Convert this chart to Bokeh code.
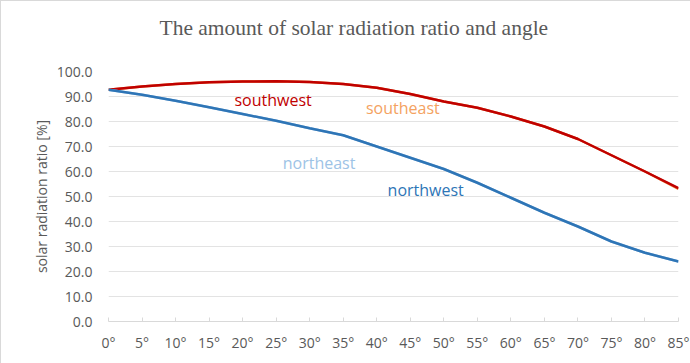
from bokeh.plotting import figure
from bokeh.models import Range1d, FixedTicker, PrintfTickFormatter, Label
from bokeh.embed import file_html
from bokeh.resources import INLINE

angles = ["0°", "5°", "10°", "15°", "20°", "25°", "30°", "35°", "40°", "45°",
          "50°", "55°", "60°", "65°", "70°", "75°", "80°", "85°"]
southwest = [92.7, 94.0, 95.0, 95.7, 96.0, 96.1, 95.8, 95.0, 93.5, 91.0,
             88.0, 85.5, 82.0, 78.0, 73.0, 66.5, 60.0, 53.3]
southeast = [92.7, 94.0, 95.0, 95.7, 96.0, 96.1, 95.8, 95.0, 93.5, 91.0,
             88.0, 85.5, 82.0, 78.0, 73.0, 66.5, 60.0, 53.0]
northeast = [92.7, 90.7, 88.3, 85.7, 83.0, 80.3, 77.3, 74.5, 70.0, 65.5,
             61.0, 55.5, 49.5, 43.5, 38.0, 32.0, 27.5, 24.0]
northwest = [92.7, 90.7, 88.3, 85.7, 83.0, 80.3, 77.3, 74.5, 70.0, 65.5,
             61.0, 55.5, 49.5, 43.5, 38.0, 32.0, 27.5, 24.0]
y_ticks = [0, 10, 20, 30, 40, 50, 60, 70, 80, 90, 100]

idx = list(range(len(angles)))

FONT = "Open Sans"
GRAY = "#595959"

p = figure(width=690, height=363, output_backend="svg", toolbar_location=None,
           x_range=Range1d(0, len(angles) - 1), y_range=Range1d(0, 100),
           min_border_left=107, min_border_right=13, min_border_top=70,
           min_border_bottom=43)
p.outline_line_color = None
p.styles = {"border-left": "1px solid #d9d9d9", "border-top": "1px solid #d9d9d9"}

p.title.text = "The amount of solar radiation ratio and angle\n "
p.title.align = "left"
p.title.offset = 51
p.title.text_font = "Liberation Serif"
p.title.text_font_style = "normal"
p.title.text_font_size = "21.5px"
p.title.text_color = GRAY
p.title.standoff = 16

# lines (hidden series first)
p.line(idx, southeast, line_color="#ED7D31", line_width=2.5)
p.line(idx, southwest, line_color="#C00000", line_width=2.5)
p.line(idx, northeast, line_color="#9DC3E6", line_width=2.5)
p.line(idx, northwest, line_color="#2E75B6", line_width=2.5)

# axes
p.xaxis.ticker = FixedTicker(ticks=idx)
p.xaxis.major_label_overrides = {i: a for i, a in zip(idx, angles)}
p.xaxis.major_tick_in = 4
p.xaxis.major_tick_out = 0
p.xaxis.minor_tick_line_color = None
p.xaxis.axis_line_color = "#d9d9d9"
p.xaxis.major_tick_line_color = "#d9d9d9"
p.xaxis.major_label_text_font = FONT
p.xaxis.major_label_text_font_size = "14px"
p.xaxis.major_label_text_color = GRAY
p.xaxis.major_label_standoff = 11

p.yaxis.ticker = FixedTicker(ticks=y_ticks)
p.yaxis.formatter = PrintfTickFormatter(format="%.1f")
p.yaxis.axis_line_color = None
p.yaxis.major_tick_line_color = None
p.yaxis.minor_tick_line_color = None
p.yaxis.major_label_text_font = FONT
p.yaxis.major_label_text_font_size = "14px"
p.yaxis.major_label_text_color = GRAY
p.yaxis.major_label_standoff = 10
p.yaxis.axis_label = "solar radiation ratio [%]"
p.yaxis.axis_label_text_font = FONT
p.yaxis.axis_label_text_font_style = "normal"
p.yaxis.axis_label_text_font_size = "14px"
p.yaxis.axis_label_text_color = GRAY
p.yaxis.axis_label_standoff = 3

p.xgrid.grid_line_color = None
p.ygrid.grid_line_color = "#e3e3e3"
p.ygrid.grid_line_width = 1

# series labels
labels = [("southwest", 4.91, 88.5, "#C00000"),
          ("southeast", 8.78, 85.5, "#F4A261"),
          ("northeast", 6.28, 63.6, "#9DC3E6"),
          ("northwest", 9.46, 52.8, "#2E75B6")]
for t, x, y, c in labels:
    p.add_layout(Label(x=x, y=y, text=t, text_align="center", text_baseline="middle",
                       text_font=FONT, text_font_size="16px", text_color=c))

open("out.html", "w").write(file_html(p, INLINE))
